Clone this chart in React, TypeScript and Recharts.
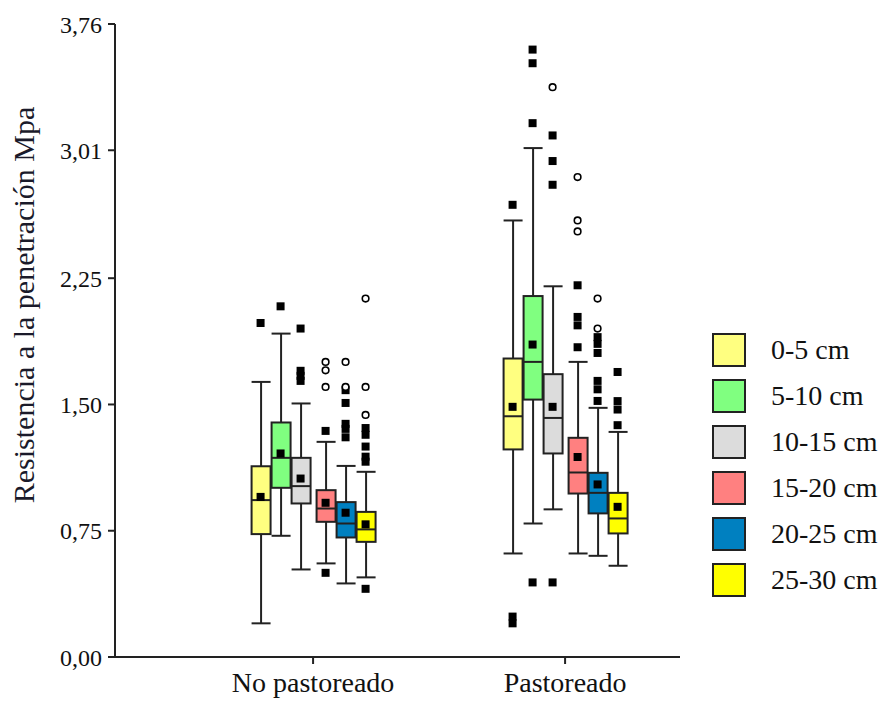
import { Bar, ComposedChart, Scatter, XAxis, YAxis } from "recharts";

const DEPTHS = ["0-5 cm", "5-10 cm", "10-15 cm", "15-20 cm", "20-25 cm", "25-30 cm"];
const COLORS = ["#ffff80", "#80ff80", "#dcdcdc", "#ff8080", "#0080c0", "#ffff00"];
const GROUPS = ["No pastoreado", "Pastoreado"];
const Y_TICKS = [0, 0.75, 1.5, 2.25, 3.01, 3.76];

// No pastoreado, one value per depth
const npLow = [0.2, 0.72, 0.52, 0.556, 0.437, 0.473];
const npQ1 = [0.73, 1.005, 0.912, 0.803, 0.71, 0.684];
const npMedian = [0.932, 1.183, 1.015, 0.882, 0.793, 0.758];
const npQ3 = [1.133, 1.393, 1.183, 0.991, 0.92, 0.862];
const npHigh = [1.634, 1.921, 1.506, 1.278, 1.135, 1.1];
const npMean = [0.951, 1.209, 1.06, 0.916, 0.857, 0.788];

// Pastoreado
const pLow = [0.615, 0.793, 0.877, 0.615, 0.601, 0.542];
const pQ1 = [1.233, 1.529, 1.209, 0.971, 0.853, 0.734];
const pMedian = [1.43, 1.753, 1.42, 1.096, 0.975, 0.823];
const pQ3 = [1.773, 2.144, 1.68, 1.302, 1.094, 0.975];
const pHigh = [2.593, 3.023, 2.202, 1.753, 1.48, 1.337];
const pMean = [1.486, 1.856, 1.486, 1.188, 1.025, 0.892];

// outliers as [depth index, value]
const npFar = [
  [0, 1.984], [1, 2.083], [2, 1.951], [2, 1.7], [2, 1.67], [2, 1.64],
  [3, 1.343], [3, 0.5], [4, 1.585], [4, 1.509], [4, 1.385], [4, 1.355], [4, 1.305],
  [5, 1.36], [5, 1.32], [5, 1.25], [5, 1.19], [5, 1.16], [5, 0.405],
];
const npNear = [
  [3, 1.753], [3, 1.703], [3, 1.604], [4, 1.753], [4, 1.604],
  [5, 2.129], [5, 1.604], [5, 1.438],
];
const pFar = [
  [0, 2.686], [0, 0.24], [0, 0.2], [1, 3.608], [1, 3.527], [1, 3.171], [1, 0.443],
  [2, 3.098], [2, 2.946], [2, 2.805], [2, 0.443],
  [3, 2.208], [3, 2.02], [3, 1.97], [3, 1.84],
  [4, 1.9], [4, 1.86], [4, 1.806], [4, 1.64], [4, 1.59], [4, 1.521],
  [5, 1.693], [5, 1.52], [5, 1.47], [5, 1.377],
];
const pNear = [[2, 3.385], [3, 2.851], [3, 2.593], [3, 2.528], [4, 2.129], [4, 1.951]];

const STEP = 20 / 252;
const HALF_GAP = 2.5 / 252;
const boxX = (g: number, d: number) =>
  g + 1 + (d - 2.5) * STEP + (d < 3 ? -HALF_GAP : HALF_GAP);

const stats = [
  { low: npLow, q1: npQ1, med: npMedian, q3: npQ3, high: npHigh, mean: npMean },
  { low: pLow, q1: pQ1, med: pMedian, q3: pQ3, high: pHigh, mean: pMean },
];

const boxes = stats.flatMap((s, g) =>
  DEPTHS.map((_, d) => ({
    x: boxX(g, d),
    d,
    whisker: [s.low[d], s.high[d]],
    box: [s.q1[d], s.q3[d]],
  }))
);
const medians = stats.flatMap((s, g) => DEPTHS.map((_, d) => ({ x: boxX(g, d), y: s.med[d] })));
const means = stats.flatMap((s, g) => DEPTHS.map((_, d) => ({ x: boxX(g, d), y: s.mean[d] })));
const toPoints = (lists: number[][][]) =>
  lists.flatMap((list, g) => list.map(([d, v]) => ({ x: boxX(g, d), y: v })));
const farPoints = toPoints([npFar, pFar]);
const nearPoints = toPoints([npNear, pNear]);

const INK = "#222";
const FONT = "'Liberation Serif', 'Times New Roman', serif";
const BOX_W = 19;

const WhiskerShape = (props: any) => {
  const { x, y, width, height } = props;
  const top = Math.min(y, y + height);
  const bottom = Math.max(y, y + height);
  const cx = x + width / 2;
  return (
    <g stroke={INK} strokeWidth={2}>
      <line x1={cx} x2={cx} y1={top} y2={bottom} />
      <line x1={x} x2={x + width} y1={top} y2={top} />
      <line x1={x} x2={x + width} y1={bottom} y2={bottom} />
    </g>
  );
};

const BoxShape = (props: any) => {
  const { x, y, width, height, payload } = props;
  return (
    <rect
      x={x}
      y={Math.min(y, y + height)}
      width={width}
      height={Math.abs(height)}
      fill={COLORS[payload.d]}
      stroke={INK}
      strokeWidth={2}
    />
  );
};

const MedianShape = (props: any) => (
  <line x1={props.cx - BOX_W / 2} x2={props.cx + BOX_W / 2} y1={props.cy} y2={props.cy} stroke={INK} strokeWidth={2} />
);
const SquareShape = (props: any) => (
  <rect x={props.cx - 4} y={props.cy - 4} width={8} height={8} fill="#000" />
);
const CircleShape = (props: any) => (
  <circle cx={props.cx} cy={props.cy} r={3.3} fill="#fff" stroke="#000" strokeWidth={1.6} />
);

const YLabel = () => (
  <text
    x={34}
    y={305}
    transform="rotate(-90 34 305)"
    textAnchor="middle"
    fontFamily={FONT}
    fontSize={30}
    fill="#1a1a2a"
  >
    Resistencia a la penetración Mpa
  </text>
);

export default function App() {
  const domainX: [number, number] = [0.214, 2.456];
  return (
    <div style={{ position: "absolute", left: 0, top: 0, width: 883, height: 702, background: "#fff" }}>
      <ComposedChart
        width={883}
        height={702}
        data={boxes}
        margin={{ top: 24, right: 203, bottom: 5, left: 0 }}
      >
        <XAxis
          xAxisId="w"
          dataKey="x"
          type="number"
          domain={domainX}
          allowDataOverflow
          hide
        />
        <XAxis
          xAxisId="b"
          dataKey="x"
          type="number"
          domain={domainX}
          allowDataOverflow
          ticks={[1, 2]}
          interval={0}
          tickFormatter={(v) => GROUPS[Math.round(v) - 1]}
          height={40}
          tickSize={7}
          tickMargin={8}
          axisLine={{ stroke: INK, strokeWidth: 2 }}
          tickLine={{ stroke: INK, strokeWidth: 2 }}
          tick={{ fontFamily: FONT, fontSize: 28, fill: "#111" }}
        />
        <YAxis
          dataKey="y"
          type="number"
          domain={[0, 3.76]}
          allowDataOverflow
          ticks={Y_TICKS}
          interval={0}
          width={115}
          tickSize={7}
          tickMargin={6}
          tickFormatter={(v) => v.toFixed(2).replace(".", ",")}
          axisLine={{ stroke: INK, strokeWidth: 2 }}
          tickLine={{ stroke: INK, strokeWidth: 2 }}
          tick={{ fontFamily: FONT, fontSize: 24, fill: "#111" }}
          label={{ content: () => <YLabel /> }}
        />
        <Bar
          xAxisId="w"
          dataKey="whisker"
          barSize={BOX_W}
          shape={<WhiskerShape />}
          isAnimationActive={false}
        />
        <Bar
          xAxisId="b"
          dataKey="box"
          barSize={BOX_W}
          shape={<BoxShape />}
          isAnimationActive={false}
        />
        <Scatter xAxisId="b" data={medians} shape={<MedianShape />} isAnimationActive={false} />
        <Scatter xAxisId="b" data={means} shape={<SquareShape />} isAnimationActive={false} />
        <Scatter xAxisId="b" data={farPoints} shape={<SquareShape />} isAnimationActive={false} />
        <Scatter xAxisId="b" data={nearPoints} shape={<CircleShape />} isAnimationActive={false} />
      </ComposedChart>
      <div style={{ position: "absolute", left: 712, top: 333, fontFamily: FONT, fontSize: 28, color: "#111" }}>
        {DEPTHS.map((name, i) => (
          <div key={name} style={{ display: "flex", alignItems: "center", height: 33, marginBottom: 13 }}>
            <div
              style={{
                width: 30,
                height: 30,
                background: COLORS[i],
                border: `2px solid ${INK}`,
                marginRight: 25,
              }}
            />
            <span style={{ whiteSpace: "nowrap", lineHeight: "33px" }}>{name}</span>
          </div>
        ))}
      </div>
    </div>
  );
}
